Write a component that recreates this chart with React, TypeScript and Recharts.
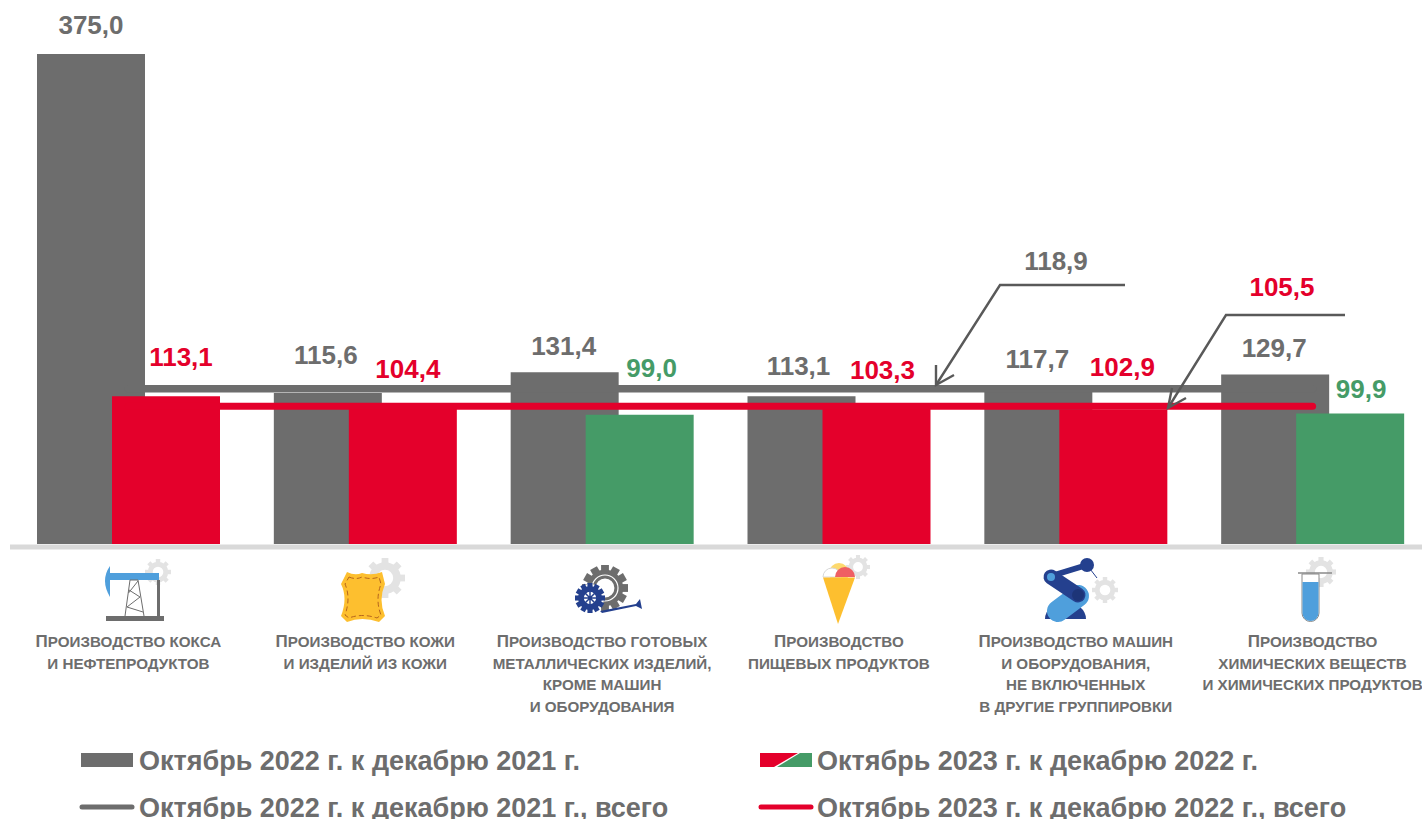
import { Bar, Cell, ComposedChart, LabelList, Line, XAxis, YAxis } from "recharts"

const GRAY = "#6d6d6d"
const RED = "#e4002b"
const GREEN = "#459b67"
const GEAR = "#e3e3e3"
const FONT = "'Liberation Sans', Arial, sans-serif"

const categories = [
  ["Производство кокса", "и нефтепродуктов"],
  ["Производство кожи", "и изделий из кожи"],
  ["Производство готовых", "металлических изделий,", "кроме машин", "и оборудования"],
  ["Производство", "пищевых продуктов"],
  ["Производство машин", "и оборудования,", "не включенных", "в другие группировки"],
  ["Производство", "химических веществ", "и химических продуктов"],
]
const values2022 = [375.0, 115.6, 131.4, 113.1, 117.7, 129.7]
const values2023 = [113.1, 104.4, 99.0, 103.3, 102.9, 99.9]
const total2022 = [118.9, 118.9, 118.9, 118.9, 118.9, 118.9]
const total2023 = [105.5, 105.5, 105.5, 105.5, 105.5, 105.5]

// hand placed data labels, same as the source slide
const labelShift2022 = [
  [0, -20],
  [-2, -29],
  [-1, -17],
  [-3, -21],
  [-1, -22],
  [-1, -18],
]
const labelShift2023 = [
  [15, -30],
  [5, -30],
  [12, -38],
  [6, -30],
  [9, -34],
  [11, -15],
]

const data = categories.map((lines, i) => ({
  name: lines.join(" "),
  lines,
  v2022: values2022[i],
  v2023: values2023[i],
  t2022: total2022[i],
  t2023: total2023[i],
}))

const fmt = (v: number) => v.toFixed(1).replace(".", ",")

const barColor = (v: number) => (v < 100 ? GREEN : RED)

function Label2022({ x, y, width, value, index }: any) {
  const [dx, dy] = labelShift2022[index]
  return (
    <text x={x + width / 2 + dx} y={y + dy} textAnchor="middle" fontFamily={FONT} fontWeight={700} fontSize={26} fill={GRAY}>
      {fmt(value)}
    </text>
  )
}

function Label2023({ x, y, width, value, index }: any) {
  const [dx, dy] = labelShift2023[index]
  return (
    <text x={x + width / 2 + dx} y={y + dy} textAnchor="middle" fontFamily={FONT} fontWeight={700} fontSize={26} fill={barColor(value)}>
      {fmt(value)}
    </text>
  )
}

function CategoryTick({ x, index }: any) {
  const lines = categories[index]
  const rows = [642, 664, 685, 707]
  return (
    <text textAnchor="middle" fontFamily={FONT} fontWeight={700} fontSize={15.2} fill={GRAY}>
      {lines.map((line, i) => (
        <tspan key={i} x={x} y={rows[i] + 5}>
          {i === 0 ? <tspan fontSize={17}>{line[0].toUpperCase()}</tspan> : null}
          {(i === 0 ? line.slice(1) : line).toUpperCase()}
        </tspan>
      ))}
    </text>
  )
}

function Gear({ cx, cy, r, fill = GEAR, teeth = 8 }: { cx: number; cy: number; r: number; fill?: string; teeth?: number }) {
  const spokes = Array.from({ length: teeth }, (_, i) => (i * 360) / teeth)
  return (
    <g>
      {spokes.map((a) => (
        <rect key={a} x={cx - r * 0.17} y={cy - r} width={r * 0.34} height={r * 0.4} fill={fill} transform={`rotate(${a} ${cx} ${cy})`} />
      ))}
      <circle cx={cx} cy={cy} r={r * 0.6} fill="none" stroke={fill} strokeWidth={r * 0.38} />
    </g>
  )
}

function Icons() {
  return (
    <svg width={1422} height={819} style={{ position: "absolute", left: 0, top: 0, pointerEvents: "none" }}>
      {/* oil pump */}
      <Gear cx={158} cy={572} r={13} />
      <path d="M110 566 Q100 580 110 597 Z" fill="#4f9fdc" />
      <rect x={107} y={573} width={52} height={7} fill="#4f9fdc" />
      <rect x={157} y={580} width={3} height={37} fill={GRAY} />
      <rect x={106} y={616} width={58} height={5} fill={GRAY} />
      <path d="M130 580 L125 616 M138 580 L144 616 M130 580 L138 580 M129 590 L140 597 L127 607 L143 612 M138 581 L128.5 593" stroke={GRAY} strokeWidth={1} fill="none" />

      {/* leather */}
      <Gear cx={385} cy={578} r={20} />
      <path
        d="M347 572 Q355 576 362 573 Q372 576 382 572 L385 584 Q378 600 385 616 L379 622 Q362 616 347 622 L341 616 Q348 598 341 584 Z"
        fill="#fdbf2f"
      />
      <path
        d="M349 577 Q356 580 362 577 Q371 580 379 577 L381 584 Q375 600 381 615 L377 618 Q362 613 349 618 L345 615 Q351 598 345 584 Z"
        fill="none"
        stroke="#b5651d"
        strokeWidth={1}
        strokeDasharray="5 3"
      />

      {/* metal parts */}
      <Gear cx={605} cy={588} r={23} fill={GRAY} teeth={12} />
      <circle cx={605} cy={588} r={13} fill="none" stroke="#fff" strokeWidth={1.2} />
      <path d="M600 611 L636 604 L640 599 L642 609 L636 606 L602 613 Z" fill="#24408e" />
      <circle cx={590} cy={598} r={14} fill="#fff" />
      <Gear cx={590} cy={598} r={15} fill="#24408e" teeth={12} />
      <path d="M590 588 V608 M580 598 H600 M583 591 L597 605 M597 591 L583 605" stroke="#24408e" strokeWidth={1.5} />

      {/* ice cream */}
      <Gear cx={858} cy={567} r={12} />
      <circle cx={839} cy={573} r={10} fill="#fdd96e" />
      <path d="M823 577 A9 9 0 0 1 841 577 Z" fill="#fff" stroke="#d8d8d8" strokeWidth={1} />
      <path d="M835 577 A10 10 0 0 1 855 577 Z" fill="#ef5f63" />
      <path d="M823 577.5 H855 L838 624 Z" fill="#fdbf2f" />

      {/* robot arm */}
      <Gear cx={1105} cy={590} r={13} />
      <path d="M1045 619 A20.5 17 0 0 1 1086 619 Z" fill="#24408e" />
      <line x1={1051} y1={576} x2={1087} y2={565} stroke="#24408e" strokeWidth={6} />
      <line x1={1087} y1={565} x2={1097} y2={578} stroke="#24408e" strokeWidth={1} />
      <circle cx={1087} cy={565} r={7} fill="#24408e" />
      <line x1={1078} y1={596} x2={1058} y2={611} stroke="#4f9fdc" strokeWidth={22} strokeLinecap="round" />
      <line x1={1051} y1={577} x2={1078} y2={595} stroke="#24408e" strokeWidth={15} strokeLinecap="round" />
      <circle cx={1051} cy={577} r={4} fill="#4f9fdc" />
      <circle cx={1078} cy={595} r={6} fill="#1d3578" />

      {/* test tube */}
      <Gear cx={1321} cy={572} r={15} />
      <path d="M1302 574 V613 A8.5 8.5 0 0 0 1319 613 V574 Z" fill="#fff" stroke="#8a8a8a" strokeWidth={1} />
      <path d="M1302.5 582 H1318.5 V613 A8 8 0 0 1 1302.5 613 Z" fill="#4f9fdc" />
      <line x1={1298} y1={573} x2={1332} y2={573} stroke="#8a8a8a" strokeWidth={1.5} />

      {/* callouts for the totals */}
      <g fill="none" stroke="#595959" strokeWidth={2.4}>
        <path d="M1125 285 H1000 L936 385" />
        <path d="M936 365 L936 385 L954 375" />
        <path d="M1345 315 H1226 L1168 408" />
        <path d="M1172 388 L1168 408 L1186 398" />
      </g>
      <text x={1056} y={270} textAnchor="middle" fontFamily={FONT} fontWeight={700} fontSize={26} fill={GRAY}>
        {fmt(total2022[0])}
      </text>
      <text x={1282} y={296} textAnchor="middle" fontFamily={FONT} fontWeight={700} fontSize={26} fill={RED}>
        {fmt(total2023[0])}
      </text>
    </svg>
  )
}

function ChartLegend() {
  const text = { position: "absolute", fontFamily: FONT, fontWeight: 700, fontSize: 27, color: GRAY, whiteSpace: "nowrap", lineHeight: "30px" } as const
  return (
    <>
      <svg width={1422} height={819} style={{ position: "absolute", left: 0, top: 0, pointerEvents: "none" }}>
        <rect x={81} y={753} width={52} height={14} fill={GRAY} />
        <line x1={82} y1={807} x2={132} y2={807} stroke={GRAY} strokeWidth={5} strokeLinecap="round" />
        <path d="M760 753 H798 L774 767 H760 Z" fill={RED} />
        <path d="M800 753 H812 V767 H777 Z" fill={GREEN} />
        <line x1={761} y1={807} x2={811} y2={807} stroke={RED} strokeWidth={5} strokeLinecap="round" />
      </svg>
      <div style={{ ...text, left: 139, top: 746 }}>Октябрь 2022 г. к декабрю 2021 г.</div>
      <div style={{ ...text, left: 817, top: 746 }}>Октябрь 2023 г. к декабрю 2022 г.</div>
      <div style={{ ...text, left: 139, top: 793 }}>Октябрь 2022 г. к декабрю 2021 г., всего</div>
      <div style={{ ...text, left: 817, top: 793 }}>Октябрь 2023 г. к декабрю 2022 г., всего</div>
    </>
  )
}

export default function App() {
  return (
    <div style={{ position: "absolute", left: 0, top: 0, width: 1422, height: 819, overflow: "hidden", background: "#fff" }}>
      <ComposedChart
        width={1431}
        height={819}
        data={data}
        barGap={-33}
        barSize={108}
        margin={{ top: 54, right: 0, bottom: 0, left: 10 }}
      >
        <XAxis
          dataKey="name"
          height={275}
          interval={0}
          tickLine={false}
          axisLine={{ stroke: "#d9d9d9", strokeWidth: 5, transform: "translate(0,3)" }}
          tick={<CategoryTick />}
        />
        <YAxis hide domain={[0, 375]} />
        <Bar dataKey="v2022" fill={GRAY} isAnimationActive={false}>
          <LabelList dataKey="v2022" content={<Label2022 />} />
        </Bar>
        <Bar dataKey="v2023" fill={RED} isAnimationActive={false}>
          {values2023.map((v, i) => (
            <Cell key={i} fill={barColor(v)} />
          ))}
          <LabelList dataKey="v2023" content={<Label2023 />} />
        </Bar>
        <Line dataKey="t2022" stroke={GRAY} strokeWidth={7.5} dot={false} activeDot={false} strokeLinecap="round" isAnimationActive={false} />
        <Line dataKey="t2023" stroke={RED} strokeWidth={7} dot={false} activeDot={false} strokeLinecap="round" isAnimationActive={false} />
      </ComposedChart>
      <Icons />
      <ChartLegend />
    </div>
  )
}
